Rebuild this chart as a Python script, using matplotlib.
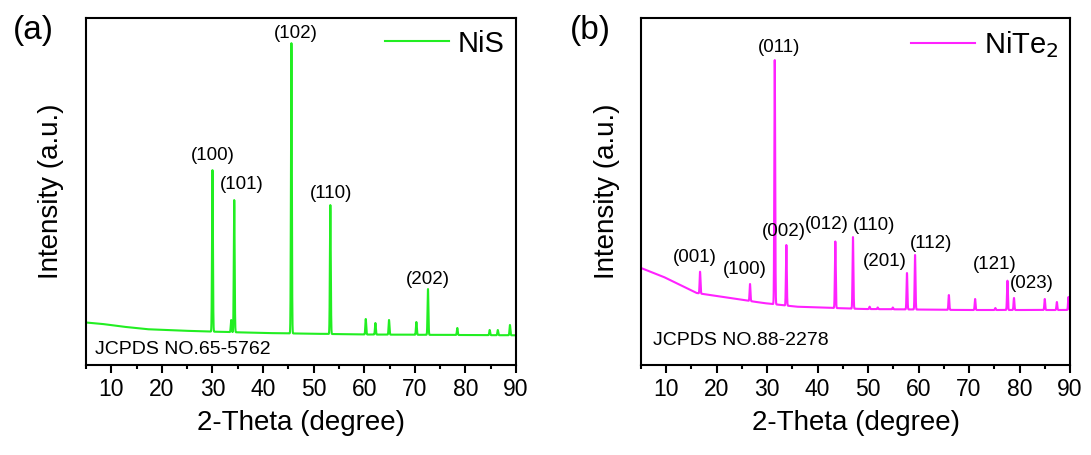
import numpy as np
import matplotlib.pyplot as plt

plt.rcParams['font.family'] = ['Liberation Sans', 'DejaVu Sans']

# ---- NiS pattern (panel a) ----
nis_bg_2theta = [5, 8, 12, 17, 23, 29, 40, 60, 90]
nis_bg_int = [425, 412, 385, 358, 345, 335, 320, 305, 297]
nis_peak_2theta = [30.0, 33.7, 34.3, 45.6, 53.3, 60.3, 62.2, 64.9, 70.3, 72.6, 78.4, 84.8, 86.4, 88.8]
nis_peak_int = [1950, 450, 1650, 3220, 1600, 460, 420, 450, 430, 760, 370, 350, 350, 400]
nis_hkl = ['(100)', '(101)', '(102)', '(110)', '(202)']
nis_hkl_2theta = [30.0, 34.3, 45.6, 53.3, 72.6]

# ---- NiTe2 pattern (panel b) ----
nite_bg_2theta = [5, 9.4, 16, 22.6, 29.2, 35.8, 49, 68.8, 90]
nite_bg_int = [970, 883, 720, 670, 620, 583, 560, 550, 550]
nite_peak_2theta = [16.7, 26.6, 31.5, 33.8, 43.5, 47.0, 50.3, 51.9, 54.9, 57.7, 59.3,
                    66.0, 71.2, 75.2, 77.6, 78.9, 85.0, 87.4, 89.7]
nite_peak_int = [933, 810, 3050, 1200, 1235, 1280, 583, 575, 575, 920, 1100,
                 700, 660, 570, 843, 670, 660, 630, 680]
nite_hkl = ['(001)', '(100)', '(011)', '(002)', '(012)', '(110)', '(201)', '(112)', '(121)', '(023)']
nite_hkl_2theta = [16.7, 26.6, 31.5, 33.8, 43.5, 47.0, 57.7, 59.3, 77.6, 78.9]

# label offsets in pixels from the peak top
nis_offsets = [(0, 14), (8, 15), (4, 10), (1, 12), (0, 9)]
nite_offsets = [(-5, 14), (-5, 15), (4, 13), (-2, 13), (-8, 17), (21, 12),
                (-22, 11), (16, 12), (-13, 16), (18, 15)]


def pattern(bg_x, bg_y, px, py, x):
    y = np.interp(x, bg_x, bg_y)
    for p, h in zip(px, py):
        amp = h - np.interp(p, bg_x, bg_y)
        y = y + amp * np.exp(-0.5 * ((x - p) / 0.085) ** 2)
    return y


def panel(ax, bg_x, bg_y, px, py, hkl, hkl_x, offsets, color, name, card_text, card_pos):
    x = np.linspace(5, 90, 8000)
    y = pattern(bg_x, bg_y, px, py, x)
    ax.plot(x, y, color=color, lw=1.5, label=name)
    for lab, hx, (dx, dy) in zip(hkl, hkl_x, offsets):
        top = pattern(bg_x, bg_y, px, py, np.array([hx]))[0]
        ax.annotate(lab, (hx, top), xytext=(dx, dy), textcoords='offset pixels',
                    ha='center', va='center', fontsize=13.5)
    ax.set_xlim(5, 90)
    ax.set_ylim(0, 3470)
    ax.set_yticks([])
    ax.set_xticks(range(10, 91, 10))
    ax.set_xticks(range(5, 90, 10), minor=True)
    ax.tick_params(axis='x', which='major', direction='out', length=6, width=1.5,
                   labelsize=16.5, pad=3)
    ax.tick_params(axis='x', which='minor', direction='out', length=3, width=1.5)
    for s in ax.spines.values():
        s.set_linewidth(1.5)
    ax.set_xlabel('2-Theta (degree)', fontsize=20)
    ax.set_ylabel('Intensity (a.u.)', fontsize=20)
    ax.xaxis.set_label_coords(0.5, -0.13)
    ax.yaxis.set_label_coords(-0.05, 0.5)
    ax.text(card_pos[0], card_pos[1], card_text, transform=ax.transAxes,
            fontsize=14, va='center')
    ax.legend(loc='upper right', frameon=False, fontsize=21, handlelength=2.2,
              handletextpad=0.3, borderaxespad=0.1, borderpad=0.3)


fig = plt.figure(figsize=(10.91, 4.55), dpi=100)
ax1 = fig.add_axes([86 / 1091, 90 / 455, 430 / 1091, 347 / 455])
ax2 = fig.add_axes([641 / 1091, 90 / 455, 429 / 1091, 347 / 455])

panel(ax1, nis_bg_2theta, nis_bg_int, nis_peak_2theta, nis_peak_int,
      nis_hkl, nis_hkl_2theta, nis_offsets, '#22ee22', 'NiS',
      'JCPDS NO.65-5762', (0.021, 0.046))
panel(ax2, nite_bg_2theta, nite_bg_int, nite_peak_2theta, nite_peak_int,
      nite_hkl, nite_hkl_2theta, nite_offsets, '#ff22ff', 'NiTe$_2$',
      'JCPDS NO.88-2278', (0.027, 0.072))

fig.text(13 / 1091, 1 - 30 / 455, '(a)', fontsize=24, va='center')
fig.text(570 / 1091, 1 - 30 / 455, '(b)', fontsize=24, va='center')

fig.savefig('out.png', dpi=100)
